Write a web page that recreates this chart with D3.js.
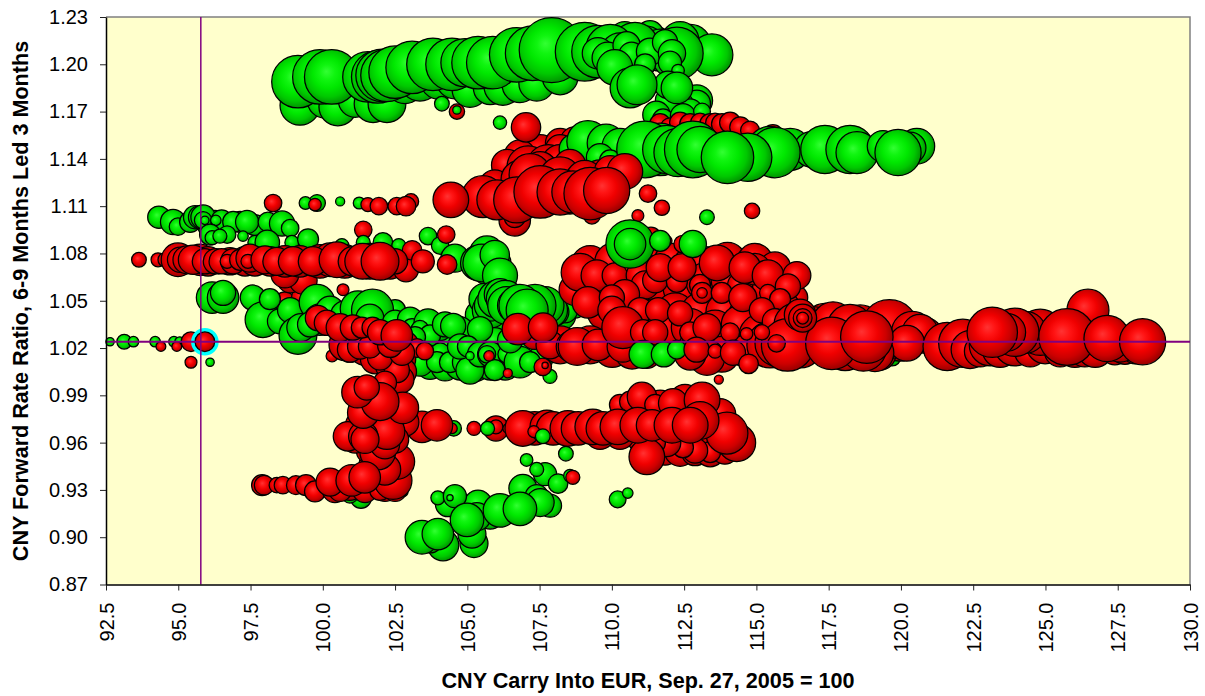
<!DOCTYPE html>
<html>
<head>
<meta charset="utf-8">
<script src="https://cdn.jsdelivr.net/npm/d3@7"></script>
<style>
    html, body { margin: 0; padding: 0; background: #fff; }
    text { font-family: "Liberation Sans", Arial, sans-serif; fill: #000; }
</style>
</head>
<body>
<div id="chart"></div>
<script>
// tick labels
var X_TICKS = [92.5, 95, 97.5, 100, 102.5, 105, 107.5, 110, 112.5, 115, 117.5, 120, 122.5, 125, 127.5, 130];
var Y_TICKS = [0.87, 0.90, 0.93, 0.96, 0.99, 1.02, 1.05, 1.08, 1.11, 1.14, 1.17, 1.20, 1.23];

// current reading, crosshair + ringed bubble
var CURRENT_X = 95.78, CURRENT_Y = 1.024;
var CURRENT_BUBBLE = [95.92, 1.024, 28];

// rows are [carry, ratio, size]
var green_top_lower = [
    [99.21,1.174,57],[100.07,1.177,50],[100.52,1.173,54],[101.12,1.177,48],[101.74,1.175,54],[102.22,1.175,54],
    [102.84,1.187,54],[103.36,1.19,60],[104.06,1.191,60],[104.57,1.19,54],
    [105.09,1.184,51],[105.79,1.185,48],[106.23,1.186,54],[106.82,1.187,51],[107.4,1.188,51],[108.21,1.192,51]
];
var green_top = [
    [110.98,1.206,60],[111.49,1.212,54],[112.71,1.212,60],[112.36,1.215,54],[111.84,1.206,45],[111.32,1.219,39],[110.45,1.217,45],
    [113.46,1.206,60],[99.14,1.189,75],[99.9,1.192,78],[100.31,1.192,78],[101.56,1.192,72],[101.9,1.192,75],
    [102.05,1.193,75],[102.22,1.193,75],[102.5,1.195,75],[103.09,1.198,75],[103.81,1.2,75],[104.47,1.2,75],
    [104.92,1.201,69],[105.37,1.201,75],[105.88,1.201,75],[106.71,1.206,78],[107.26,1.207,78],[107.92,1.209,93],
    [111.15,1.211,60],[111.67,1.209,60],[112.25,1.207,75],[110.8,1.212,66],[109.06,1.208,84],[109.52,1.208,75],
    [109.94,1.21,69],[110.28,1.208,54],[109.52,1.207,45],[109.86,1.204,45],[110.51,1.212,39],[110.68,1.206,36],
    [111.32,1.208,39],[111.84,1.214,36],[112.08,1.207,39],[112.01,1.201,33],[111.15,1.2,30],[110.1,1.198,51],
    [112.29,1.196,18],[112.94,1.177,45],[112.94,1.175,39],[112.36,1.174,39],[112.71,1.17,36],[111.94,1.177,36],[111.54,1.168,39],[111.77,1.165,30],
    [112.46,1.167,36],[113.12,1.17,24],[111.94,1.187,39],[112.25,1.185,45],[110.63,1.185,57],[110.87,1.187,57]
];
var green_lone = [
    [104.12,1.175,21],[106.13,1.163,19],[113.29,1.103,21],[99.8,1.112,24],[99.4,1.112,18],[100.6,1.113,13],[101.26,1.112,17]
];
var red_upper_back = [
    [111.67,1.162,30],[112.01,1.16,27],[112.36,1.163,30],[112.71,1.162,30],[113.05,1.163,27],[113.4,1.162,30],[113.57,1.163,27],[113.81,1.162,30],
    [114.09,1.163,30],[114.44,1.16,30],[114.78,1.158,27],[115.57,1.155,30],[115.9,1.152,25],[107.52,1.144,51],[108.21,1.15,42],[108.72,1.151,42],
    [106.82,1.142,45],[108.72,1.142,45],[108.21,1.146,42],[106.38,1.136,45],[107.1,1.135,60],[107.8,1.135,63],[108.21,1.137,54],[109.06,1.136,51],[109.59,1.136,45]
];
var green_mid = [
    [108.72,1.146,45],[109.17,1.151,60],[109.8,1.15,54],[110.28,1.148,51],[109.59,1.141,39],[109.94,1.139,30],
    [111.67,1.146,75],[111.15,1.146,81],[111.9,1.146,69],[112.29,1.144,69],[112.8,1.146,81],[113.05,1.146,66],
    [116.17,1.146,60],[116.91,1.146,51],[117.37,1.146,69],[118.24,1.146,69],[118.48,1.144,60],[119.38,1.148,45],
    [120.55,1.148,51],[120.32,1.147,45],[119.9,1.144,66],[115.47,1.146,66],[115.64,1.144,72],[114.7,1.141,69],[114,1.141,75]
];
var red_upper_front = [
    [106.64,1.101,45],[106.64,1.103,30],[109.31,1.104,24],[105.95,1.123,45],[106.82,1.127,54],[107.69,1.13,54],[108.72,1.127,60],
    [109.59,1.128,51],[110.01,1.127,51],[108.55,1.136,45],[107.52,1.134,48],[107.17,1.13,60],
    [108.21,1.128,60],[109.06,1.127,54],[109.94,1.132,45],[110.45,1.132,51],[108.55,1.117,54],[109.59,1.117,51],[105.54,1.116,60],[106.02,1.114,57],
    [106.71,1.114,66],[107.52,1.119,75],[108.21,1.119,66],[108.65,1.119,60],[109.25,1.118,75],[109.82,1.12,66]
];
var red_lone = [
    [104.64,1.17,22],[107.03,1.16,42],[104.43,1.114,51],[98.28,1.112,25],[99.73,1.111,18],[101.56,1.111,20],
    [101.94,1.11,25],[102.56,1.11,25],[103.05,1.113,22],[102.88,1.11,28],[111.25,1.118,25],[110.9,1.104,17],
    [111.73,1.109,22],[114.85,1.107,22],[101.4,1.095,25],[100.7,1.057,17],[100.32,1.015,17],[113.7,1,13],
    [95.44,1.011,17]
];
var green_dots = [[104.64,1.171,12],[96.1,1.011,12]];
var green_left = [
    [94.33,1.103,32],[94.82,1.1,36],[94.99,1.097,25],[95.41,1.1,30],[95.58,1.103,33],[96.27,1.1,33],[96.1,1.098,36],[97.14,1.1,30],[97.65,1.098,30],
    [95.75,1.103,33],[95.86,1.103,35],
    [95.86,1.101,25],[95.92,1.101,12],[96.5,1.101,30],[96.3,1.101,15],[96.9,1.1,30],[97.38,1.1,33],[98.1,1.1,28],
    [98.59,1.099,36],[98.87,1.096,25],[96.1,1.092,30],[96.17,1.09,20],[96.69,1.092,25],[96.44,1.091,20],[97.24,1.091,15],
    [97.65,1.087,20],[98.08,1.087,35],[98.93,1.087,20],[99.49,1.089,30],[102.08,1.087,28],[102.63,1.085,20],[101.4,1.087,20],
    [100.66,1.085,20],[103.64,1.091,25],[104.06,1.085,25],[104.57,1.077,40]
];
var green_bend = [
    [105.79,1.073,60],[105.68,1.08,50],[105.37,1.074,50],[105.5,1.074,54],[105.95,1.079,42],[106.13,1.066,50],[104.75,1.032,25],
    [105.5,1.032,36],[106.13,1.032,20],[105.44,1.041,42],[105.95,1.038,45],[105.6,1.051,45],[105.79,1.044,51],[108.21,1.041,45],
    [105.79,1.047,45],[106.02,1.051,54],[106.13,1.054,45],[106.31,1.051,54],[106.36,1.047,54],[106.65,1.047,50],
    [108.72,1.047,36],[108.38,1.044,36],[108.03,1.043,40],[107.86,1.044,50],[107.69,1.047,54],[107.34,1.047,60],[106.82,1.047,60],[107.07,1.044,60]
];
var green_pair = [[96.17,1.052,45],[96.55,1.052,45],[96.55,1.055,36]];
var red_drip = [[98.69,1.049,30],[99.32,1.052,33],[98.87,1.063,36],[99.32,1.063,40],[98.69,1.067,40]];
var red_row_fill = [
    [95.75,1.076,45],[96.03,1.075,42],[96.79,1.075,39],[97.31,1.075,42],[97.65,1.075,42],[98.17,1.075,42],[98.69,1.075,45],
    [99.21,1.075,45],[99.9,1.075,48],[100.25,1.076,48],[100.76,1.075,48],[101.63,1.075,51],[102.33,1.073,42]
];
var red_row = [
    [93.64,1.076,21],[94.3,1.076,20],[94.54,1.076,20],[94.99,1.076,48],[95.06,1.076,36],[95.3,1.076,40],[95.51,1.076,42],
    [95.92,1.075,36],[96.3,1.075,36],[96.5,1.075,36],[96.9,1.075,36],[96.69,1.075,20],[97.14,1.076,30],[97.48,1.077,40],
    [97.41,1.075,20],[98,1.076,40],[98.41,1.075,40],[98.97,1.075,42],[99.66,1.075,42],[100.49,1.076,51],[101.04,1.075,42],
    [101.38,1.075,51],[102.88,1.07,36],[103.09,1.082,28],[103.46,1.075,33],[102.5,1.075,36],[101.98,1.075,54],[104.3,1.073,28],[104.27,1.092,25]
];
var green_band_left = [
    [97.58,1.052,36],[97.93,1.038,51],[98.52,1.037,36],[98.87,1.044,36],[98.17,1.051,30],[99.14,1.028,54],[99.24,1.033,40],[99.8,1.049,51],
    [99.9,1.038,45],[99.56,1.035,36],[100.76,1.028,40],[101.29,1.038,45],[102.15,1.038,45],[102.5,1.044,30],
    [100.25,1.044,40],[100.76,1.041,40],[101.22,1.045,51],[101.72,1.044,60],[101.63,1.039,40],[102.5,1.036,36],[103.02,1.038,36],[100.94,1.019,36]
];
var green_band_main = [
    [103.71,1.009,40],[104.23,1.008,40],[104.75,1.009,42],[105.27,1.008,42],[105.79,1.009,42],[106.31,1.009,42],[103.19,1.019,40],
    [103.71,1.022,40],[104.23,1.022,40],[104.92,1.025,40],[105.44,1.024,40],[105.95,1.024,40],[106.48,1.018,42],[107,1.019,40],
    [107.52,1.013,36],[104.06,1.032,33],[104.75,1.032,36],[103.09,1.032,30],
    [103.36,1.011,40],[103.64,1.036,40],[103.36,1.032,25],[103.71,1.028,30],[104.23,1.035,36],[104.51,1.034,36],[104.06,1.017,28],
    [103.95,1.011,30],[104.4,1.011,30],[104.92,1.011,36],[105.09,1.006,40],[105.44,1.032,36],[104.75,1.021,36],[105.02,1.021,30],
    [105.44,1.016,36],[105.79,1.016,36],[105.68,1.016,25],[106.36,1.016,25],[105.95,1.006,30],[106.82,1.011,45],[107.17,1.011,30],
    [106.48,1.025,36],[102.85,1.021,30],[103.19,1.027,30],[105.09,1.015,12],[107.86,1.002,20]
];
var red_band_dots = [[105.75,1.015,15],[106.4,1.004,13],[107.61,1.008,25],[107.69,1.009,9]];
var red_band_left = [
    [100.76,1.022,45],[101.12,1.022,42],[101.46,1.019,45],[101.81,1.013,42],[102.15,1.025,45],[102.33,1.009,42],[102.67,1.013,45],
    [102.84,1.022,39],[102.5,0.997,39],[102.77,1.005,39],
    [102.67,1,40],[102.56,1.006,36],[103.26,1.02,27],[103.53,1.018,25],[101.98,1.014,36],[102.74,1.017,36],[100.94,1.019,36],[101.29,1.021,36],
    [101.63,1.021,33],[102.33,1.022,36],[99.83,1.039,36],[100.14,1.036,36],[100.6,1.033,40],[101.04,1.033,36],[101.35,1.033,30],
    [101.72,1.033,30],[101.98,1.03,36],[102.56,1.028,45]
];
var green_under_stack = [[101.32,0.925,30],[100.94,0.927,24],[102.77,0.929,15]];
var red_stack = [
    [97.9,0.933,30],[97.97,0.933,28],[98.41,0.933,22],[98.62,0.933,25],[99.07,0.933,27],[99.42,0.933,30],[99.73,0.929,30],
    [100.42,0.93,36],[100.94,0.932,39],[101.46,0.93,36],[102.15,0.93,33],[102.5,0.93,33],
    [100.6,0.93,33],[101.98,0.93,30],[100.25,0.935,40],[102.43,0.936,54],[102.56,0.948,51],[101.8,0.946,45],[102.15,0.943,45],[101.63,0.955,39],
    [101.9,0.954,51],[101,0.936,45],[101.45,0.938,45],
    [102.15,0.998,33],[103.43,0.97,45],[103.95,0.971,45],[102.84,0.973,40],[102.33,0.974,40],[101.73,0.976,40],[101.29,0.971,42],[101.8,0.968,39],
    [102.5,0.962,39],[102.15,0.959,42],[101.12,0.962,39],[102.22,0.967,51],
    [100.87,0.964,42],[101.4,0.964,42],[101.46,0.962,40],[102.77,0.982,45],[101.4,0.979,45],[101.98,0.986,54],[101.2,0.992,45],[101.52,0.995,36]
];
var green_low_dot = [[104.53,0.969,22]];
var red_low_dot = [[104.47,0.969,15]];
var green_bottom = [
    [104.16,0.895,45],[103.71,0.898,36],[105.23,0.896,40],[105.16,0.902,40],[103.43,0.9,48],[103.98,0.902,45],
    [105.79,0.914,40],[104.33,0.921,36],[103.98,0.925,20],[105.37,0.921,40],[105.33,0.913,40],[104.57,0.926,33],[104.4,0.925,9],
    [104.99,0.911,48],[106.92,0.931,40],[107.69,0.94,33],[107.4,0.943,20],[107.4,0.926,33],[107.86,0.92,33],[107.52,0.922,40],
    [106.13,0.917,48],[106.82,0.918,48],[108.14,0.934,28],[107.05,0.949,18],[108.41,0.953,21],[110.2,0.924,24],[110.55,0.928,15],[108.55,0.939,18]
];
var red_low_right = [[108.65,0.938,20]];
var red_lower = [
    [111.32,0.959,45],[111.84,0.955,42],[112.36,0.955,45],[112.88,0.954,39],[113.4,0.954,42],[113.91,0.955,39],[110.98,0.962,36],[110.28,0.965,42],
    [109.59,0.965,42],[111.67,0.984,42],[112.53,0.987,45],[110.98,0.984,39],[110.45,0.981,39],[113.22,0.968,45],[113.74,0.978,45],
    [105.23,0.969,20],[105.99,0.969,36],[105.99,0.97,20],[106.4,0.969,14],[107.33,0.969,48],[106.92,0.969,51],[107.75,0.97,48],
    [107.97,0.969,48],[108.48,0.969,51],[108.83,0.969,48],[109.34,0.97,51],[109.69,0.969,48],[107.3,0.967,17],[110.28,0.984,30],[110.63,0.986,30],[111.04,0.989,42],[111.5,0.984,30],
    [112.12,0.985,42],[113.12,0.987,51],[113.4,0.954,30],[112.88,0.955,36],[112.46,0.957,30],[111.9,0.96,40],[111.49,0.96,30],
    [111.21,0.951,51],[114.32,0.96,54],[113.98,0.966,60],[113.05,0.974,54],[110.21,0.97,51],[110.9,0.971,51],[111.39,0.971,45],
    [112.08,0.971,51],[112.71,0.971,51]
];
var green_low_top = [[107.61,0.964,21],[105.7,0.969,20]];
var green_loop = [[110.63,1.086,69],[110.63,1.086,45],[112.8,1.086,39],[111.67,1.088,30]];
var red_mid_fill = [
    [109.25,1.073,54],[110.03,1.075,51],[110.7,1.071,54],[111.32,1.075,51],[112.08,1.075,51],[112.75,1.073,51],[113.22,1.073,51],
    [114,1.075,54],[114.95,1.075,51],[115.64,1.071,45],[108.72,1.057,45],[109.41,1.057,51],[110.21,1.058,54],[110.9,1.057,54],
    [111.67,1.06,54],[112.43,1.058,54],[113.22,1.062,54],[114.09,1.063,54],[114.85,1.057,51],[115.54,1.054,45],[116.34,1.052,36],
    [109.8,1.043,54],[110.63,1.041,54],[111.39,1.039,54],[112.19,1.043,54],[113.05,1.043,54],[113.91,1.043,54],[114.7,1.041,54],
    [115.47,1.041,51],[116,1.047,39],[110.98,1.028,54],[111.84,1.032,54],[112.71,1.033,54],[113.57,1.032,54],[114.44,1.035,54],[115.13,1.028,60]
];
var red_mid_back = [
    [108.9,1.068,54],[109.48,1.066,45],[110.1,1.066,36],[110.98,1.066,40],[111.15,1.06,40],[110.45,1.054,42],[111.5,1.063,36],
    [112.25,1.062,30],[113.05,1.06,30],[115.22,1.061,54],[114.44,1.06,36],[114.95,1.07,45],[113.64,1.074,51],[114.6,1.071,45],
    [115.4,1.066,45],[116.4,1.066,40],[116.09,1.059,36],[113.12,1.055,30],[113.12,1.055,15],[113.8,1.055,30],[114.53,1.052,40],
    [115.4,1.055,24],[115.82,1.051,30],[109.17,1.049,45],[110,1.052,36],[110,1.044,40],[110.98,1.044,36],[111.6,1.044,36],
    [111.67,1.071,40],[112.43,1.071,40],[112.36,1.042,36],[111.35,1.09,30],[111.9,1.088,15],[112.45,1.086,25],[112.8,1.083,25]
];
var red_row_low = [
    [108.21,1.022,54],[109.25,1.022,54],[110.01,1.019,51],[110.7,1.018,51],[112.88,1.019,51],[113.8,1.016,51],[114.6,1.018,45],[115.47,1.022,66],
    [107.33,1.028,40],[106.75,1.032,45],[107.86,1.022,40],[107.62,1.033,42],[108.62,1.021,45],[108.8,1.021,54],[109.52,1.022,45],
    [110.38,1.021,45],[110.38,1.033,60],[111.21,1.016,40],[113.29,1.014,51],[112.71,1.016,45],[115.75,1.023,66],[111.08,1.03,36],
    [111.5,1.03,36],[112.71,1.03,30],[113.29,1.033,40],[114.09,1.03,27]
];
var green_gaps = [[111.08,1.016,40],[111.8,1.016,36],[112.25,1.019,27]];
var red_small_front = [[112.93,1.019,36],[113.57,1.018,20],[114.19,1.017,36],[114.73,1.01,28],[115.19,1.044,36],[115.64,1.037,36]];
var green_remnant = [[119.7,1.014,24]];
var red_big_row = [
    [116.51,1.022,66],[118.07,1.019,60],[119.28,1.028,75],[118.59,1.034,60],[119.97,1.025,60],[120.83,1.028,51],[119.28,1.016,45],[117.37,1.035,60],[116.34,1.035,60],
    [116.96,1.033,60],[117.65,1.036,60],[118.24,1.033,66],[119.6,1.032,84],[120.4,1.03,60],[120.66,1.03,51],[120.2,1.023,51],
    [119.1,1.017,54],[118.7,1.02,66],[116.08,1.022,75],[117.61,1.023,75],[118.82,1.027,75],[114.66,1.029,18],[115.19,1.03,22],
    [115.7,1.023,25],[116.51,1.041,45],[116.6,1.039,40],[116.6,1.039,27],[116.6,1.039,17]
];
var red_tail = [
    [126.47,1.044,60],[121.6,1.021,69],[122.14,1.023,69],[122.39,1.019,54],[122.74,1.018,45],[123.09,1.022,60],[123.43,1.019,51],[123.94,1.022,60],[124.47,1.018,45],[124.99,1.022,54],[125.51,1.018,45],[126.02,1.019,51],
    [126.36,1.018,45],[126.72,1.019,51],[127.4,1.018,39],[127.75,1.019,42],[128.1,1.018,36],[124.82,1.03,66],[124.3,1.03,60],[123.94,1.03,69],[123.66,1.03,54],
    [125.75,1.027,81],[127.58,1.023,54],[127.13,1.026,66],[128.36,1.024,66],[123.16,1.03,72]
];
var green_strip = [[92.64,1.024,12],[93.13,1.024,21],[93.45,1.024,15],[94.2,1.024,15],[94.85,1.024,15],[95.05,1.024,14]];
var red_strip = [[94.4,1.021,14],[94.95,1.021,14],[95.44,1.024,28]];

// draw order, later layers sit on top
var layers = [
    [green_top_lower, 'green'], [green_top, 'green'], [red_upper_back, 'red'], [green_mid, 'green'],
    [red_upper_front, 'red'], [green_lone, 'green'], [red_lone, 'red'], [green_dots, 'green'],
    [green_left, 'green'], [green_bend, 'green'], [green_pair, 'green'], [red_drip, 'red'], [red_row_fill, 'red'], [red_row, 'red'],
    [green_band_left, 'green'], [green_band_main, 'green'], [red_band_dots, 'red'], [red_band_left, 'red'],
    [green_bottom, 'green'], [red_low_right, 'red'], [green_low_dot, 'green'], [red_low_dot, 'red'], [green_under_stack, 'green'], [red_stack, 'red'],
    [red_lower, 'red'], [green_low_top, 'green'], [red_mid_fill, 'red'], [red_mid_back, 'red'], [green_loop, 'green'], [red_row_low, 'red'],
    [green_gaps, 'green'], [red_small_front, 'red'], [green_remnant, 'green'], [red_big_row, 'red'], [red_tail, 'red'],
    [green_strip, 'green'], [red_strip, 'red']
];

var WIDTH = 1205, HEIGHT = 696,
    LEFT = 106, RIGHT = 1190, TOP = 17, BOTTOM = 584.5;

var x_scale = d3.scaleLinear().domain([92.5, 130]).range([LEFT, RIGHT]);
var y_scale = d3.scaleLinear().domain([0.87, 1.23]).range([BOTTOM, TOP]);
var r_scale = d3.scaleLinear().domain([0, 100]).range([0, 35]);

var svg = d3.select('#chart').append('svg')
    .attr('width', WIDTH)
    .attr('height', HEIGHT)
    .style('display', 'block');

function add_gradient(id, stops){
    var g = svg.append('defs').append('radialGradient')
        .attr('id', id)
        .attr('cx', '46%').attr('cy', '46%').attr('r', '56%')
        .attr('fx', '40%').attr('fy', '40%');
    stops.forEach(function(s){
        g.append('stop').attr('offset', s[0]).attr('stop-color', s[1]);
    });
}
add_gradient('green', [['0%', '#33ff33'], ['25%', '#10f510'], ['50%', '#00e800'], ['75%', '#00c800'], ['100%', '#008c00']]);
add_gradient('red', [['0%', '#ff3333'], ['25%', '#ff1414'], ['50%', '#f00000'], ['75%', '#cc0000'], ['100%', '#900000']]);

// plot area
svg.append('rect')
    .attr('x', LEFT).attr('y', TOP)
    .attr('width', RIGHT - LEFT).attr('height', BOTTOM - TOP)
    .attr('fill', '#ffffcc');
svg.append('path')
    .attr('d', d3.line()([[LEFT, TOP], [RIGHT, TOP], [RIGHT, BOTTOM]]))
    .attr('fill', 'none').attr('stroke', '#808080').attr('stroke-width', 1.5);

// bubbles
var bubbles = svg.append('g').attr('id', 'bubbles');
layers.forEach(function(layer){
    bubbles.append('g').selectAll('circle')
        .data(layer[0])
        .enter().append('circle')
        .attr('cx', function(d){ return x_scale(d[0]); })
        .attr('cy', function(d){ return y_scale(d[1]); })
        .attr('r', function(d){ return r_scale(d[2]); })
        .attr('fill', 'url(#' + layer[1] + ')')
        .attr('stroke', '#000')
        .attr('stroke-width', 1.25);
});

// current point, ring over bubble
svg.append('circle')
    .attr('cx', x_scale(CURRENT_BUBBLE[0])).attr('cy', y_scale(CURRENT_BUBBLE[1]))
    .attr('r', r_scale(CURRENT_BUBBLE[2]) + 2)
    .attr('fill', 'none').attr('stroke', '#00ffff').attr('stroke-width', 4);
svg.append('circle')
    .attr('cx', x_scale(CURRENT_BUBBLE[0])).attr('cy', y_scale(CURRENT_BUBBLE[1]))
    .attr('r', r_scale(CURRENT_BUBBLE[2]))
    .attr('fill', 'url(#red)').attr('stroke', '#000').attr('stroke-width', 1.25);

// crosshair
svg.append('line')
    .attr('x1', x_scale(CURRENT_X)).attr('x2', x_scale(CURRENT_X))
    .attr('y1', TOP).attr('y2', BOTTOM)
    .attr('stroke', '#800080').attr('stroke-width', 1.5);
svg.append('line')
    .attr('x1', LEFT).attr('x2', RIGHT)
    .attr('y1', y_scale(CURRENT_Y)).attr('y2', y_scale(CURRENT_Y))
    .attr('stroke', '#800080').attr('stroke-width', 2);

// axes
var x_axis = svg.append('g')
    .attr('transform', 'translate(0,' + BOTTOM + ')')
    .call(d3.axisBottom(x_scale).tickValues(X_TICKS).tickSize(6).tickSizeOuter(0).tickFormat(d3.format('.1f')));
x_axis.selectAll('text')
    .attr('transform', 'rotate(-90)')
    .attr('x', -18).attr('y', 0).attr('dy', '0.35em')
    .style('text-anchor', 'end')
    .style('font-size', '20px');

var y_axis = svg.append('g')
    .attr('transform', 'translate(' + LEFT + ',0)')
    .call(d3.axisLeft(y_scale).tickValues(Y_TICKS).tickSize(6).tickSizeOuter(0).tickFormat(d3.format('.2f')));
y_axis.selectAll('text')
    .attr('x', -18)
    .style('font-size', '20px');

svg.selectAll('.domain').attr('stroke', '#000').attr('stroke-width', 1.5);
svg.selectAll('.tick line').attr('stroke', '#222').attr('stroke-width', 1);

// axis titles
svg.append('text')
    .attr('x', 648).attr('y', 688)
    .attr('text-anchor', 'middle')
    .style('font-size', '21.6px').style('font-weight', 'bold')
    .text('CNY Carry Into EUR, Sep. 27, 2005 = 100');
svg.append('text')
    .attr('transform', 'translate(28,301)rotate(-90)')
    .attr('text-anchor', 'middle')
    .style('font-size', '21.6px').style('font-weight', 'bold')
    .text('CNY Forward Rate Ratio, 6-9 Months Led 3 Months');
</script>
</body>
</html>
